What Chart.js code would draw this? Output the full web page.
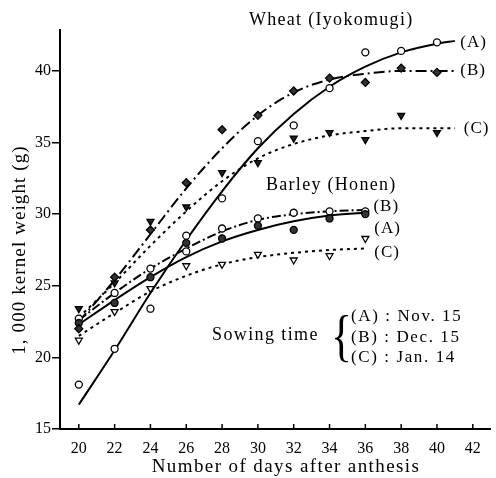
<!DOCTYPE html>
<html>
<head>
<meta charset="utf-8">
<script src="https://cdn.jsdelivr.net/npm/chart.js@4.4.1/dist/chart.umd.min.js"></script>
<style>
  html, body { margin: 0; padding: 0; background: #fff; }
  #wrap { width: 496px; height: 478px; position: relative; }
</style>
</head>
<body>
<div id="wrap"><canvas id="chart"></canvas></div>
<script>
// observed points (days after anthesis)
const days = [20, 22, 24, 26, 28, 30, 32, 34, 36, 38, 40];
const wheatA = [18.1, 20.6, 23.4, 28.5, 31.1, 35.1, 36.2, 38.8, 41.3, 41.4, 42.0];
const wheatB = [22.0, 25.6, 28.9, 32.2, 35.9, 36.9, 38.6, 39.5, 39.2, 40.2, 39.9];
const wheatC = [23.4, 25.2, 29.5, 30.5, 32.9, 33.6, 35.3, 35.7, 35.2, 36.9, 35.7];

const barleyDays = [20, 22, 24, 26, 28, 30, 32, 34, 36];
const barleyA = [22.4, 23.8, 25.6, 28.0, 28.3, 29.2, 28.9, 29.7, 30.0];
const barleyB = [22.7, 24.5, 26.2, 27.4, 29.0, 29.7, 30.1, 30.2, 30.2];
const barleyC = [21.2, 23.2, 24.8, 26.4, 26.5, 27.2, 26.8, 27.1, 28.3];

// fitted curves
const wheatFitDays = [20, 22, 24, 26, 28, 30, 32, 34, 36, 38, 40, 41];
const wheatAFit = [16.7, 20.5, 24.5, 28.2, 31.6, 34.6, 37.0, 38.9, 40.3, 41.3, 41.9, 42.1];
const wheatBFit = [22.5, 25.4, 28.6, 31.8, 34.6, 36.9, 38.5, 39.4, 39.8, 40.0, 40.0, 40.0];
const wheatCFit = [22.8, 25.2, 27.8, 30.2, 32.3, 33.9, 34.9, 35.5, 35.8, 36.0, 36.0, 36.0];
const barleyAFit = [22.3, 24.0, 25.6, 27.0, 28.1, 28.9, 29.5, 29.9, 30.1];
const barleyBFit = [22.6, 24.5, 26.2, 27.6, 28.8, 29.6, 30.0, 30.2, 30.3];
const barleyCFit = [21.5, 23.1, 24.6, 25.7, 26.5, 27.0, 27.3, 27.5, 27.6];

const xTicks = [20, 22, 24, 26, 28, 30, 32, 34, 36, 38, 40, 42];
const yTicks = [15, 20, 25, 30, 35, 40];

const sowing = ['(A) : Nov. 15', '(B) : Dec. 15', '(C) : Jan. 14'];

const SERIF = '"Liberation Serif", "DejaVu Serif", serif';

function pts(xs, ys) {
    return xs.map((x, i) => ({ x: x, y: ys[i] }));
}

function marks(xs, ys, style, fill, rot) {
    return {
        data: pts(xs, ys),
        showLine: false,
        pointStyle: style,
        pointRotation: rot || 0,
        pointRadius: style === 'circle' ? 3.5 : 4,
        pointBackgroundColor: fill,
        pointBorderColor: '#000',
        pointBorderWidth: 1.3
    };
}

function curve(xs, ys, dash) {
    return {
        data: pts(xs, ys),
        showLine: true,
        pointRadius: 0,
        borderColor: '#000',
        borderWidth: 2,
        borderDash: dash,
        tension: 0.4,
        cubicInterpolationMode: 'monotone'
    };
}

// text with extra tracking like the printed figure
function spaced(ctx, text, x, y, spacing) {
    ctx.letterSpacing = spacing + 'px';
    ctx.fillText(text, x, y);
    ctx.letterSpacing = '0px';
}

const textPlugin = {
    id: 'texts',
    afterDraw(chart) {
        const ctx = chart.ctx;
        const xs = chart.scales.x, ys = chart.scales.y;
        const X = v => xs.getPixelForValue(v);
        const Y = v => ys.getPixelForValue(v);
        const area = chart.chartArea;

        // inward x tick marks
        ctx.save();
        ctx.strokeStyle = '#000';
        ctx.lineWidth = 1.5;
        xTicks.forEach(t => {
            ctx.beginPath();
            ctx.moveTo(X(t), area.bottom);
            ctx.lineTo(X(t), area.bottom - 5);
            ctx.stroke();
        });
        ctx.restore();

        ctx.save();
        ctx.fillStyle = '#000';
        ctx.textBaseline = 'middle';
        ctx.textAlign = 'left';

        ctx.font = '18px ' + SERIF;
        spaced(ctx, 'Wheat (Iyokomugi)', X(29.5), Y(43.55), 1.3);
        spaced(ctx, 'Barley (Honen)', X(30.45), Y(32.0), 1.3);

        ctx.font = '17px ' + SERIF;
        spaced(ctx, '(A)', X(41.3), Y(42.0), 1);
        spaced(ctx, '(B)', X(41.3), Y(40.0), 1);
        spaced(ctx, '(C)', X(41.5), Y(36.0), 1);
        spaced(ctx, '(B)', X(36.45), Y(30.5), 1);
        spaced(ctx, '(A)', X(36.5), Y(29.0), 1);
        spaced(ctx, '(C)', X(36.5), Y(27.3), 1);

        // sowing time key
        ctx.font = '18px ' + SERIF;
        spaced(ctx, 'Sowing time', 212, 335, 1.4);
        ctx.font = '17px ' + SERIF;
        sowing.forEach((s, i) => spaced(ctx, s, 351, 317 + i * 20.5, 1.6));
        ctx.font = '58px ' + SERIF;
        ctx.textBaseline = 'alphabetic';
        ctx.save();
        ctx.translate(331, 355);
        ctx.scale(0.75, 1);
        ctx.fillText('{', 0, 0);
        ctx.restore();

        // axis titles
        ctx.textBaseline = 'middle';
        ctx.textAlign = 'center';
        ctx.font = '19px ' + SERIF;
        spaced(ctx, 'Number of days after anthesis', 286, 467, 1.4);
        ctx.save();
        ctx.translate(20, 250);
        ctx.rotate(-Math.PI / 2);
        spaced(ctx, '1, 000 kernel weight (g)', 0, 0, 1.1);
        ctx.restore();
        ctx.restore();
    }
};

new Chart(document.getElementById('chart').getContext('2d'), {
    type: 'scatter',
    data: {
        datasets: [
            marks(days, wheatA, 'circle', '#fff'),
            marks(days, wheatB, 'rectRot', '#333'),
            marks(days, wheatC, 'triangle', '#222', 180),
            marks(barleyDays, barleyA, 'circle', '#333'),
            marks(barleyDays, barleyB, 'circle', '#fff'),
            marks(barleyDays, barleyC, 'triangle', '#fff', 180),
            curve(wheatFitDays, wheatAFit, []),
            curve(wheatFitDays, wheatBFit, [11, 4, 2, 4]),
            curve(wheatFitDays, wheatCFit, [3, 4]),
            curve(barleyDays, barleyAFit, []),
            curve(barleyDays, barleyBFit, [9, 3, 2, 3]),
            curve(barleyDays, barleyCFit, [3, 4])
        ]
    },
    options: {
        responsive: true,
        maintainAspectRatio: false,
        animation: false,
        layout: { padding: { top: 30, right: 1, left: 0, bottom: 0 } },
        plugins: {
            legend: { display: false },
            tooltip: { enabled: false }
        },
        scales: {
            x: {
                type: 'linear',
                min: 18.95,
                max: 43,
                afterBuildTicks: s => { s.ticks = xTicks.map(v => ({ value: v })); },
                afterFit: s => { s.height = 49; },
                grid: { display: false },
                border: { display: true, color: '#000', width: 2 },
                ticks: {
                    color: '#000',
                    padding: 2,
                    maxRotation: 0,
                    font: { family: SERIF, size: 16 }
                }
            },
            y: {
                min: 15,
                max: 42.86,
                afterBuildTicks: s => { s.ticks = yTicks.map(v => ({ value: v })); },
                afterFit: s => { s.width = 60; },
                grid: {
                    drawOnChartArea: false,
                    drawTicks: true,
                    tickLength: 8,
                    color: '#000',
                    lineWidth: 1.5
                },
                border: { display: true, color: '#000', width: 2 },
                ticks: {
                    color: '#000',
                    padding: 1,
                    font: { family: SERIF, size: 16 }
                }
            }
        }
    },
    plugins: [textPlugin]
});
</script>
</body>
</html>
